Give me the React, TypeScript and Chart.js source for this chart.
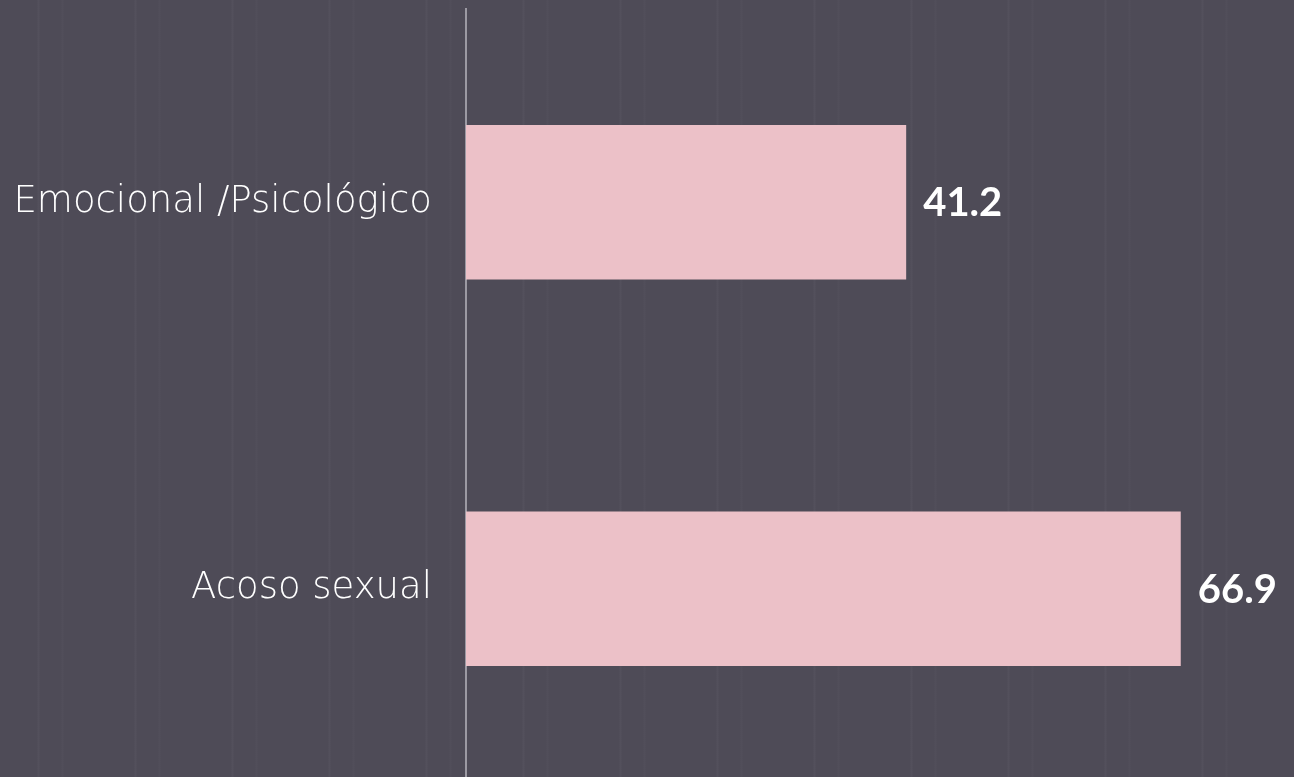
import React, { useEffect, useRef } from "react";
import { Chart, registerables } from "chart.js";

Chart.register(...registerables);

const categories = ["Emocional /Psicológico", "Acoso sexual"];
const values = [41.2, 66.9];
const xMax = 77.5;

const BG = "#4e4b57";
const BAR = "#ecc1c8";

const valueLabelPlugin = {
  id: "valueLabels",
  afterDatasetsDraw(chart: any) {
    const { ctx } = chart;
    const meta = chart.getDatasetMeta(0);
    ctx.save();
    ctx.fillStyle = "#ffffff";
    ctx.font = "bold 40px Lato, 'Open Sans', sans-serif";
    ctx.textAlign = "left";
    ctx.textBaseline = "middle";
    meta.data.forEach((bar: any, i: number) => {
      const v = chart.data.datasets[0].data[i];
      ctx.fillText(Number(v).toFixed(1), bar.x + 17, bar.y + 1);
    });
    ctx.restore();
  },
};

export default function App() {
  const ref = useRef<HTMLCanvasElement>(null);
  useEffect(() => {
    document.body.style.margin = "0";
    document.body.style.background = BG;
    const chart = new Chart(ref.current!, {
      type: "bar",
      data: {
        labels: categories,
        datasets: [
          {
            data: values,
            backgroundColor: BAR,
            borderWidth: 0,
            categoryPercentage: 1,
            barPercentage: 0.4,
          },
        ],
      },
      options: {
        indexAxis: "y",
        animation: false,
        responsive: false,
        devicePixelRatio: 1,
        layout: { padding: { top: 9, right: 0, bottom: 0, left: 0 } },
        plugins: { legend: { display: false }, tooltip: { enabled: false } },
        scales: {
          x: { display: false, min: 0, max: xMax },
          y: {
            afterFit(scale: any) {
              scale.width = 466;
              scale.paddingTop = 0;
              scale.paddingBottom = 0;
            },
            grid: { display: false, drawTicks: false },
            border: { display: true, color: "#9c9aa3", width: 2 },
            ticks: {
              color: "#ffffff",
              padding: 34,
              font: { family: "'DejaVu Sans', sans-serif", size: 37, weight: 200 },
            },
          },
        },
      },
      plugins: [valueLabelPlugin],
    });
    return () => chart.destroy();
  }, []);
  return (
    <div
      style={{
        position: "fixed",
        left: 0,
        top: 0,
        width: 1294,
        height: 777,
        overflow: "hidden",
        background: `repeating-linear-gradient(90deg, ${BG} 0px, ${BG} 37px, #53505c 38px, #53505c 39px, ${BG} 40px, ${BG} 61px, #514e5a 62px, #514e5a 63px, ${BG} 64px, ${BG} 97px)`,
      }}
    >
      <canvas ref={ref} width={1294} height={782} style={{ display: "block" }} />
    </div>
  );
}
